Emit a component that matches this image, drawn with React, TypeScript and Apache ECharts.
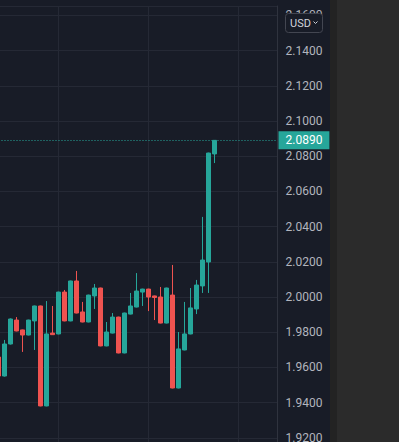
import React, { useEffect, useRef } from "react";
import * as echarts from "echarts";

const categories = [
  "t00", "t01", "t02", "t03", "t04", "t05", "t06", "t07", "t08", "t09",
  "t10", "t11", "t12", "t13", "t14", "t15", "t16", "t17", "t18", "t19",
  "t20", "t21", "t22", "t23", "t24", "t25", "t26", "t27", "t28", "t29",
  "t30", "t31", "t32", "t33", "t34", "t35", "t36", "t37", "t38", "t39",
  "t40", "t41", "t42", "t43", "t44", "t45", "t46",
];

const opens = [
  1.9659, 1.9551, 1.9733, 1.9869, 1.9813, 1.9784, 1.9864, 1.9949, 1.9381, 1.9795,
  1.979, 2.0028, 1.9864, 2.0091, 1.9915, 1.9858, 2.0006, 2.0051, 1.9722, 1.9795,
  1.9886, 1.9682, 1.9903, 1.9943, 2.0028, 2.0045, 2.0006, 2.0, 1.9852, 2.0011,
  1.9483, 1.9699, 1.979, 1.9932, 2.0063, 2.0199, 2.0813,
];
const closes = [
  1.9551, 1.9733, 1.9875, 1.9807, 1.9784, 1.9869, 1.9949, 1.9381, 1.979, 1.9786,
  2.0028, 1.9864, 2.0091, 1.9909, 1.9858, 2.0011, 2.0051, 1.9722, 1.9801, 1.9886,
  1.9682, 1.9909, 1.9949, 2.0034, 2.0045, 2.0, 1.9997, 1.9852, 2.0051, 1.9483,
  1.9705, 1.979, 1.9938, 2.0068, 2.021, 2.0818, 2.089,
];
const lows = [
  1.9545, 1.9548, 1.973, 1.9805, 1.9688, 1.9782, 1.9699, 1.9379, 1.9379, 1.9784,
  1.9788, 1.9862, 1.9862, 1.9907, 1.9856, 1.9856, 1.9932, 1.972, 1.972, 1.9793,
  1.968, 1.968, 1.9901, 1.9941, 1.9949, 1.992, 1.9869, 1.985, 1.985, 1.9481,
  1.9481, 1.9697, 1.9788, 1.9903, 2.0023, 2.0023, 2.0761,
];
const highs = [
  1.9665, 1.9756, 1.9878, 1.9886, 1.9815, 1.9871, 1.9951, 1.9951, 1.9977, 1.9949,
  2.003, 2.004, 2.0093, 2.0148, 1.9972, 2.0013, 2.0074, 2.0053, 1.9858, 1.9909,
  1.9888, 1.9911, 2.0023, 2.0136, 2.0047, 2.0047, 2.0008, 2.0057, 2.0053, 2.0182,
  1.9801, 1.9972, 2.0051, 2.0097, 2.0455, 2.082, 2.0892,
];

const lastPrice = 2.089;
const currencyLabel = "USD";

const BG = "#181c27";
const GRID = "#252935";
const AXIS = "#2f333e";
const UP = "#26a69a";
const DOWN = "#ef5350";
const TEXT = "#b2b5be";

export default function App() {
  const ref = useRef<HTMLDivElement>(null);

  useEffect(() => {
    const chart = echarts.init(ref.current!, null, { renderer: "svg" });
    const data = opens.map((o, i) => [o, closes[i], lows[i], highs[i]]);

    chart.setOption({
      animation: false,
      backgroundColor: BG,
      grid: [
        { left: -4.5, right: 121.5, top: 6, bottom: -31, containLabel: false, outerBoundsMode: "none" },
        { left: -31.5, right: 160.5, top: 6, bottom: -31, containLabel: false, outerBoundsMode: "none" },
      ],
      xAxis: [
        {
          type: "category",
          gridIndex: 0,
          data: categories,
          boundaryGap: true,
          axisLine: { show: false },
          axisTick: { show: false },
          axisLabel: { show: false },
          splitLine: { show: false },
        },
        {
          type: "value",
          gridIndex: 1,
          min: 0,
          max: 3,
          interval: 1,
          axisLine: { show: false },
          axisTick: { show: false },
          axisLabel: { show: false },
          splitLine: { show: true, lineStyle: { color: GRID, width: 1 } },
        },
      ],
      yAxis: [
        {
          type: "value",
          gridIndex: 0,
          position: "right",
          min: 1.9,
          max: 2.165341,
          interval: 0.02,
          axisLine: { show: true, lineStyle: { color: AXIS, width: 1 } },
          axisTick: { show: false },
          axisLabel: {
            color: TEXT,
            fontSize: 12,
            fontFamily: "Roboto",
            margin: 8,
            showMaxLabel: false,
            showMinLabel: false,
            formatter: (v: number) => v.toFixed(4),
          },
          splitLine: { show: true, lineStyle: { color: GRID, width: 1 } },
        },
        { type: "value", gridIndex: 1, show: false, min: 0, max: 1 },
      ],
      series: [
        {
          type: "candlestick",
          xAxisIndex: 0,
          yAxisIndex: 0,
          data,
          barWidth: 4,
          itemStyle: {
            color: UP,
            color0: DOWN,
            borderColor: UP,
            borderColor0: DOWN,
            borderWidth: 1,
          },
          emphasis: { disabled: true },
          markLine: {
            silent: true,
            precision: 4,
            symbol: ["none", "none"],
            data: [{ yAxis: lastPrice }],
            lineStyle: { color: UP, type: [1, 2], width: 1 },
            label: {
              show: true,
              position: "end",
              distance: 1,
              formatter: (p: any) => Number(p.value).toFixed(4),
              color: "#ffffff",
              backgroundColor: UP,
              padding: [3, 7, 3, 7],
              fontSize: 12,
              lineHeight: 12,
              fontFamily: "Roboto",
            },
            emphasis: { disabled: true },
          },
        },
      ],
      graphic: [
        { type: "rect", z: 100, shape: { x: 330, y: 0, width: 69, height: 442 }, style: { fill: "#2b2b2b" } },
        { type: "rect", z: 100, shape: { x: 330, y: 0, width: 7, height: 442 }, style: { fill: "#232323" } },
        {
          type: "rect",
          z: 100,
          shape: { x: 285.5, y: 13.5, width: 37, height: 19, r: 3 },
          style: { fill: BG, stroke: "#434651", lineWidth: 1 },
        },
        {
          type: "text",
          z: 101,
          x: 290,
          y: 23,
          style: {
            text: currencyLabel,
            fill: "#d1d4dc",
            font: "11px Roboto",
            verticalAlign: "middle",
            textVerticalAlign: "middle",
          },
        },
        {
          type: "polyline",
          z: 101,
          shape: { points: [[313.5, 21.5], [315.5, 23.5], [317.5, 21.5]] },
          style: { stroke: "#d1d4dc", lineWidth: 1, fill: "none" },
        },
      ],
    });

    return () => chart.dispose();
  }, []);

  return (
    <div
      ref={ref}
      style={{ position: "fixed", left: 0, top: 0, width: 399, height: 442 }}
    />
  );
}
